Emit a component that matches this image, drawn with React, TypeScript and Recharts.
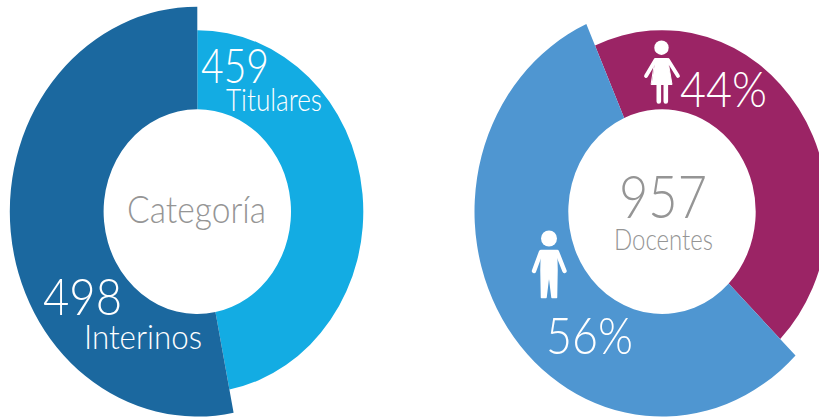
import { PieChart, Pie, Cell, Sector } from 'recharts';

// share of the ring (the printed counts are slightly off the drawn arcs)
const categoryNames = ['Titulares', 'Interinos'];
const categoryArc = [46.9, 53.1];
const categoryColors = ['#13ACE3', '#1B689F'];

const genderNames = ['Mujeres', 'Hombres'];
const genderShare = [44, 56];
const genderColors = ['#9B2465', '#4F96D1'];

const categoryData = categoryNames.map((name, i) => ({ name, value: categoryArc[i] }));
const genderData = genderNames.map((name, i) => ({ name, value: genderShare[i] }));

// each donut is a bit taller than wide, and the slices have different outer radius
const STRETCH_Y = 1.093;
const INNER = 93.7;
const outerByName: Record<string, number> = {
  Titulares: 166,
  Interinos: 187.5,
  Mujeres: 166,
  Hombres: 187.5,
};

const StretchedSector = (props: any) => {
  const { cy, name } = props;
  return (
    <g transform={`translate(0 ${cy}) scale(1 ${STRETCH_Y}) translate(0 ${-cy})`}>
      <Sector {...props} innerRadius={INNER} outerRadius={outerByName[name]} stroke="none" />
    </g>
  );
};

const font = 'Lato, sans-serif';
const GREY = '#959595';

const Label = ({ x, y, size, width, fill = '#fff', children }: any) => (
  <text
    x={x}
    y={y}
    fontSize={size}
    fontFamily={font}
    fontWeight={300}
    fill={fill}
    textLength={width}
    lengthAdjust="spacingAndGlyphs"
  >
    {children}
  </text>
);

const WomanIcon = () => (
  <g fill="#fff" stroke="#fff" strokeLinecap="round" strokeLinejoin="round">
    <circle cx={661.5} cy={47.7} r={7.2} stroke="none" />
    <path d="M655.5 58.5 H667.5 L672 84.5 H651.5 Z" strokeWidth={1} />
    <path d="M655.5 60 L646 76 M668 60 L678 76" fill="none" strokeWidth={3.8} />
    <path d="M658.8 84 V101.5 M665.8 84 V101.5" fill="none" strokeWidth={4.6} />
  </g>
);

const ManIcon = () => (
  <g fill="#fff" stroke="#fff" strokeLinecap="round" strokeLinejoin="round">
    <circle cx={549} cy={238.5} r={8} stroke="none" />
    <path d="M541.5 250.5 H556.5 L557 270 L556.5 297.5 L552 297.5 L549.5 277 L548.5 277 L546 297.5 L541.5 297.5 L541 270 Z" strokeWidth={1.5} />
    <path d="M541 252 L534 271 M557 252 L564.5 271" fill="none" strokeWidth={4.4} />
  </g>
);

export default function App() {
  return (
    <div style={{ position: 'absolute', left: 0, top: 0, width: 819, height: 417, overflow: 'hidden', background: '#fff' }}>
      <PieChart width={819} height={417} margin={{ top: 0, right: 0, bottom: 0, left: 0 }}>
        <Pie
          data={categoryData}
          dataKey="value"
          nameKey="name"
          cx={197.3}
          cy={211.6}
          innerRadius={INNER}
          outerRadius={187.5}
          startAngle={90}
          endAngle={-270}
          shape={StretchedSector}
          stroke="none"
          isAnimationActive={false}
        >
          {categoryData.map((d, i) => (
            <Cell key={d.name} fill={categoryColors[i]} />
          ))}
        </Pie>
        <Pie
          data={genderData}
          dataKey="value"
          nameKey="name"
          cx={662}
          cy={211.6}
          innerRadius={INNER}
          outerRadius={187.5}
          startAngle={113.8}
          endAngle={-246.2}
          shape={StretchedSector}
          stroke="none"
          isAnimationActive={false}
        >
          {genderData.map((d, i) => (
            <Cell key={d.name} fill={genderColors[i]} />
          ))}
        </Pie>
      </PieChart>
      {/* labels sit in their own layer, the pie sectors paint over chart children */}
      <svg width={819} height={417} style={{ position: 'absolute', left: 0, top: 0 }}>
        <Label x={201} y={82.5} size={48} width={68}>459</Label>
        <Label x={226} y={111} size={31} width={96}>Titulares</Label>
        <Label x={127} y={223} size={37} width={139} fill={GREY}>Categoría</Label>
        <Label x={43} y={315} size={51} width={79}>498</Label>
        <Label x={84} y={349} size={34} width={118}>Interinos</Label>
        <Label x={680} y={107} size={50} width={87}>44%</Label>
        <Label x={546} y={354} size={52} width={87}>56%</Label>
        <Label x={619} y={218} size={60} width={88} fill={GREY}>957</Label>
        <Label x={614} y={250} size={29} width={99} fill={GREY}>Docentes</Label>
        <WomanIcon />
        <ManIcon />
      </svg>
    </div>
  );
}
